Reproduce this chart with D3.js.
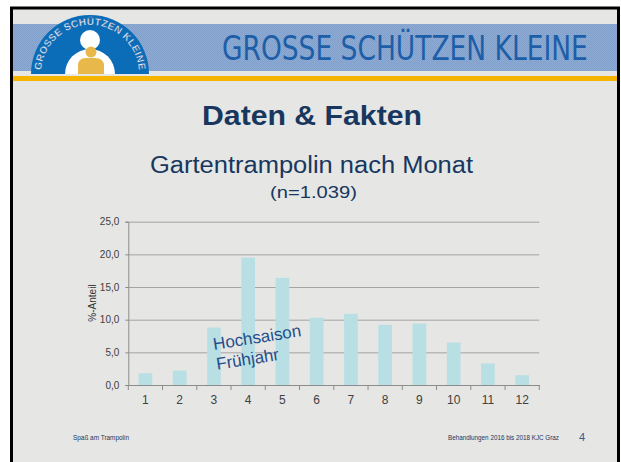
<!DOCTYPE html>
<html>
<head>
<meta charset="utf-8">
<script src="https://cdn.jsdelivr.net/npm/d3@7"></script>
<style>
  html, body { margin: 0; padding: 0; background: #fff; }
  svg { display: block; }
</style>
</head>
<body>
<div id="slide"></div>
<script>
// Gartentrampolin accidents by month, share in %
const months = ["1", "2", "3", "4", "5", "6", "7", "8", "9", "10", "11", "12"];
const shares = [1.8, 2.2, 8.8, 19.5, 16.4, 10.3, 10.9, 9.2, 9.4, 6.5, 3.3, 1.5];
const yTicks = [0, 5, 10, 15, 20, 25];

const W = 621, H = 462;
const NAVY = "#17375e";
const SANS = "'Liberation Sans', Arial, sans-serif";

const svg = d3.select("#slide").append("svg")
  .attr("width", W).attr("height", H)
  .style("font-family", SANS);

// checker pattern for the blue header band
const defs = svg.append("defs");
const pat = defs.append("pattern").attr("id", "chk")
  .attr("width", 2).attr("height", 2).attr("patternUnits", "userSpaceOnUse");
pat.append("rect").attr("width", 2).attr("height", 2).attr("fill", "#8eabd3");
pat.append("rect").attr("width", 1).attr("height", 1).attr("fill", "#809fcb");
pat.append("rect").attr("x", 1).attr("y", 1).attr("width", 1).attr("height", 1).attr("fill", "#809fcb");

// slide frame
svg.append("rect")
  .attr("x", 11.5).attr("y", 8).attr("width", 607).attr("height", 470)
  .attr("fill", "#e6e6e5").attr("stroke", "#000").attr("stroke-width", 3);

// header band + orange rule
svg.append("rect").attr("x", 13).attr("y", 24).attr("width", 604).attr("height", 47).attr("fill", "url(#chk)");
svg.append("rect").attr("x", 13).attr("y", 76).attr("width", 604).attr("height", 5).attr("fill", "#f4b400");

// header title: squeeze horizontally to the narrow look of the original
const head = svg.append("text")
  .attr("font-family", "'Liberation Sans Narrow', 'DejaVu Sans Condensed', sans-serif")
  .attr("font-size", 33).attr("fill", "#1d5ea8")
  .text("GROSSE SCHÜTZEN KLEINE");
const headW = head.node().getComputedTextLength();
head.attr("transform", `translate(222,60) scale(${366 / headW},1)`);

// logo
const logo = svg.append("g").attr("transform", "translate(90,74)");
logo.append("path").attr("d", d3.arc()({ innerRadius: 0, outerRadius: 59, startAngle: -Math.PI / 2, endAngle: Math.PI / 2 }))
  .attr("fill", "#0b6cb8");
logo.append("path").attr("d", d3.arc()({ innerRadius: 0, outerRadius: 25, startAngle: -Math.PI / 2, endAngle: Math.PI / 2 }))
  .attr("fill", "#fff");
logo.append("circle").attr("cx", 0).attr("cy", -34).attr("r", 10).attr("fill", "#fff");
logo.append("circle").attr("cx", 1).attr("cy", -22).attr("r", 5.5).attr("fill", "#e9b84a");
logo.append("path").attr("d", "M-12,0 L-12,-8 Q-12,-16 -4,-16 L5,-16 Q14,-16 14,-8 L14,0 Z").attr("fill", "#e9b84a");
defs.append("path").attr("id", "logoArc").attr("d", "M41,74 A49,49 0 0 1 139,74");
svg.append("text")
  .attr("font-size", 10).attr("font-weight", "bold").attr("fill", "#e4ecf7")
  .attr("stroke", "#0a4f96").attr("stroke-width", 0.3)
  .append("textPath").attr("href", "#logoArc").attr("startOffset", "50%").attr("text-anchor", "middle")
  .attr("textLength", 146)
  .text("GROSSE SCHÜTZEN KLEINE");

// titles
svg.append("text").attr("x", 202).attr("y", 125)
  .attr("font-size", 28).attr("font-weight", "bold").attr("fill", NAVY)
  .attr("textLength", 220).attr("lengthAdjust", "spacingAndGlyphs").text("Daten & Fakten");
svg.append("text").attr("x", 150).attr("y", 173)
  .attr("font-size", 23).attr("fill", NAVY)
  .attr("textLength", 323).attr("lengthAdjust", "spacingAndGlyphs").text("Gartentrampolin nach Monat");
svg.append("text").attr("x", 270).attr("y", 198)
  .attr("font-size", 17).attr("fill", NAVY)
  .attr("textLength", 87).attr("lengthAdjust", "spacingAndGlyphs").text("(n=1.039)");

// chart
const x = d3.scaleBand().domain(months).range([128.3, 539.3]).padding(0);
const y = d3.scaleLinear().domain([0, 25]).range([385, 221.7]);
const barW = x.bandwidth() / 2.5;

const g = svg.append("g");

// gridlines
g.append("g")
  .attr("transform", `translate(${x.range()[0]},0)`)
  .call(d3.axisLeft(y).tickValues(yTicks).tickSize(-(x.range()[1] - x.range()[0])).tickFormat(""))
  .call(s => s.select(".domain").remove())
  .call(s => s.selectAll(".tick line").attr("stroke", "#a3a3a3"));

// bars
g.selectAll(".bar")
  .data(months.map((m, i) => ({ m, v: shares[i] })))
  .join("rect")
  .attr("x", d => x(d.m) + (x.bandwidth() - barW) / 2)
  .attr("y", d => y(d.v))
  .attr("width", barW)
  .attr("height", d => y(0) - y(d.v))
  .attr("fill", "#b8dfe3");

// y axis
g.append("g")
  .attr("transform", `translate(${x.range()[0]},0)`)
  .call(d3.axisLeft(y).tickValues(yTicks).tickSize(3).tickPadding(6)
    .tickFormat(d => d.toFixed(1).replace(".", ",")))
  .call(s => s.select(".domain").attr("stroke", "#8c8c8c"))
  .call(s => s.selectAll(".tick line").attr("stroke", "#8c8c8c"))
  .call(s => s.selectAll("text").attr("font-family", SANS).attr("font-size", 10).attr("fill", "#404040"));

// x axis: labels centred, ticks at band edges
g.append("g")
  .attr("transform", `translate(0,${y(0)})`)
  .call(d3.axisBottom(x).tickSize(0).tickPadding(10))
  .call(s => s.select(".domain").attr("stroke", "#8c8c8c"))
  .call(s => s.selectAll("text").attr("font-family", SANS).attr("font-size", 12).attr("fill", "#404040"));
g.selectAll(".xtick")
  .data(months.map(m => x(m)).concat([x.range()[1]]))
  .join("line")
  .attr("x1", d => d).attr("x2", d => d)
  .attr("y1", y(0)).attr("y2", y(0) + 5)
  .attr("stroke", "#8c8c8c");

svg.append("text")
  .attr("transform", "translate(96,303) rotate(-90)")
  .attr("text-anchor", "middle").attr("font-size", 10).attr("fill", "#333")
  .text("%-Anteil");

// annotation
const ann = svg.append("text")
  .attr("transform", "translate(214,350) rotate(-9)")
  .attr("font-size", 17).attr("fill", "#1f4e8c");
ann.append("tspan").attr("x", 0).attr("y", 0).text("Hochsaison");
ann.append("tspan").attr("x", 0).attr("y", 20).text("Frühjahr");

// footer
svg.append("text").attr("x", 73).attr("y", 440).attr("font-size", 6.5).attr("fill", NAVY)
  .attr("textLength", 56).attr("lengthAdjust", "spacingAndGlyphs").text("Spaß am Trampolin");
svg.append("text").attr("x", 448).attr("y", 440).attr("font-size", 6.5).attr("fill", NAVY)
  .attr("textLength", 111).attr("lengthAdjust", "spacingAndGlyphs").text("Behandlungen 2016 bis 2018 KJC Graz");
svg.append("text").attr("x", 579).attr("y", 441).attr("font-size", 11).attr("fill", "#3a5a8a").text("4");
</script>
</body>
</html>
